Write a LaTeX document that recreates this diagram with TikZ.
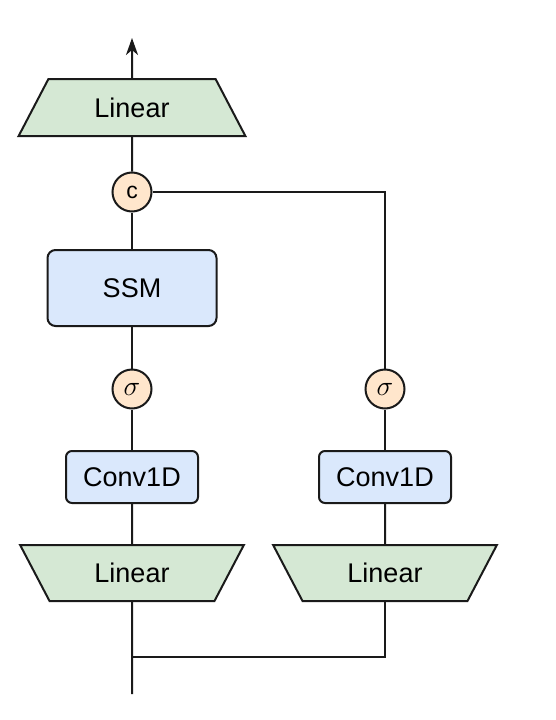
\RequirePackage{fix-cm}
\documentclass[tikz,border=0pt]{standalone}
\usepackage{fontspec}
\setmainfont{Liberation Sans}
\usetikzlibrary{shapes.geometric,arrows.meta}
\definecolor{lgreen}{HTML}{D5E8D4}
\definecolor{lblue}{HTML}{DAE8FC}
\definecolor{lorange}{HTML}{FFE6CC}
\definecolor{strk}{HTML}{1A1A1A}
\tikzset{
  base/.style={draw=strk, line width=2pt, inner sep=0pt, font=\fontsize{27}{30}\selectfont},
  linup/.style={base, fill=lgreen, trapezium, trapezium stretches=true, trapezium angle=56, minimum width=227pt, minimum height=57pt},
  lindown/.style={base, fill=lgreen, trapezium, trapezium stretches=true, trapezium angle=124, minimum width=224pt, minimum height=56pt},
  boxb/.style={base, fill=lblue, rectangle, rounded corners=8pt},
  opc/.style={base, fill=lorange, circle, minimum size=39pt},
  wire/.style={draw=strk, line width=2pt}
}
\begin{document}
\begin{tikzpicture}[x=1pt,y=-1pt]
\useasboundingbox (0,0) rectangle (556,720);
\node[linup] (lintop) at (132,107.5) {Linear};
\node[opc, font=\fontsize{23}{25}\selectfont] (cat) at (132,192) {c};
\node[boxb, minimum width=169pt, minimum height=76pt] (ssm) at (132,288) {SSM};
\node[opc, font=\fontsize{28}{30}\selectfont] (sigl) at (132,389) {$\sigma$};
\node[opc, font=\fontsize{28}{30}\selectfont] (sigr) at (385,389) {$\sigma$};
\node[boxb, rounded corners=6pt, minimum width=132pt, minimum height=52pt] (convl) at (132,477) {Conv1D};
\node[boxb, rounded corners=6pt, minimum width=132pt, minimum height=52pt] (convr) at (385,477) {Conv1D};
\node[lindown] (linl) at (132,573) {Linear};
\node[lindown] (linr) at (385,573) {Linear};
\coordinate (out) at (132,38);
\coordinate (in) at (132,694);
\coordinate (join) at (132,657);

\draw[wire, -{Stealth[length=17pt,width=12pt,inset=5pt]}] (lintop.north) -- (out);
\draw[wire] (cat) -- (lintop.south);
\draw[wire] (ssm) -- (cat);
\draw[wire] (sigl) -- (ssm);
\draw[wire] (convl) -- (sigl);
\draw[wire] (linl.north) -- (convl);
\draw[wire] (in) -- (linl.south);
\draw[wire] (linr.south) |- (join);
\draw[wire] (linr.north) -- (convr);
\draw[wire] (convr) -- (sigr);
\draw[wire] (sigr.north) |- (cat.east);
\end{tikzpicture}
\end{document}
